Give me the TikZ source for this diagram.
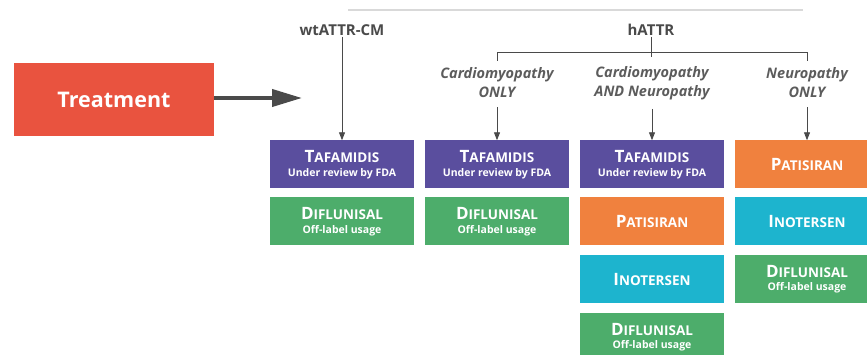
\documentclass[tikz,border=0pt]{standalone}
\usepackage{fontspec}
\setmainfont{Open Sans}
\usetikzlibrary{arrows.meta}
\definecolor{tred}{HTML}{E9533F}
\definecolor{tpurple}{HTML}{5A4E9E}
\definecolor{tgreen}{HTML}{4DAD6B}
\definecolor{torange}{HTML}{F0813E}
\definecolor{tcyan}{HTML}{1DB4CE}
\definecolor{tgray}{HTML}{4A4A4A}
\newcommand\fsc[2]{{\fontsize{17}{17}\selectfont #1}{\fontsize{13.5}{13.5}\selectfont #2}}
\newcommand\subt[1]{{\fontsize{10.5}{10.5}\selectfont #1}}
\begin{document}
\begin{tikzpicture}[x=1pt,y=-1pt,
  drug/.style={fill=#1, minimum width=144pt, minimum height=48pt, inner sep=0pt,
    text=white, font=\bfseries, align=center},
  head/.style={text=tgray, font=\fontsize{15}{15}\selectfont\bfseries, inner sep=1pt},
  sub/.style={text=tgray!90, font=\fontsize{14.5}{19}\selectfont\bfseries\itshape, align=center, inner sep=1pt},
  conn/.style={draw=tgray, line width=0.9pt},
  arr/.style={conn, -{Triangle[length=8pt,width=6pt]}}]
\useasboundingbox (0,0) rectangle (867,355);
% top line
\coordinate (tl1) at (348,10);
\coordinate (tl2) at (803,10);
\draw[gray!30, line width=1.5pt] (tl1) -- (tl2);
% treatment
\node[fill=tred, minimum width=200pt, minimum height=73pt, inner sep=0pt, text=white,
  font=\fontsize{21.5}{21.5}\selectfont\bfseries] (treat) at (114,99.5) {Treatment};
\coordinate (tarr) at (302,98);
\draw[draw=tgray, line width=4pt, -{Triangle[length=30pt,width=17pt]}] (treat.east|-tarr) -- (tarr);
% headings
\node[head] (wt) at (342,30) {wtATTR-CM};
\node[head] (hattr) at (651,30) {hATTR};
\node[sub] (l1) at (497,83) {Cardiomyopathy\\ONLY};
\node[sub] (l2) at (652,83) {Cardiomyopathy\\AND Neuropathy};
\node[sub] (l3) at (807,83) {Neuropathy\\ONLY};
% boxes column 1
\node[drug=tpurple] (a1) at (342,164.5) {\fsc{T}{AFAMIDIS}\\[1.5pt]\subt{Under review by FDA}};
\node[drug=tgreen] (a2) at (342,221.5) {\fsc{D}{IFLUNISAL}\\[1.5pt]\subt{Off-label usage}};
% column 2
\node[drug=tpurple] (b1) at (497,164.5) {\fsc{T}{AFAMIDIS}\\[1.5pt]\subt{Under review by FDA}};
\node[drug=tgreen] (b2) at (497,221.5) {\fsc{D}{IFLUNISAL}\\[1.5pt]\subt{Off-label usage}};
% column 3
\node[drug=tpurple] (c1) at (652,164.5) {\fsc{T}{AFAMIDIS}\\[1.5pt]\subt{Under review by FDA}};
\node[drug=torange] (c2) at (652,221.5) {\fsc{P}{ATISIRAN}};
\node[drug=tcyan] (c3) at (652,279) {\fsc{I}{NOTERSEN}};
\node[drug=tgreen] (c4) at (652,337) {\fsc{D}{IFLUNISAL}\\[1.5pt]\subt{Off-label usage}};
% column 4
\node[drug=torange] (d1) at (807,164.5) {\fsc{P}{ATISIRAN}};
\node[drug=tcyan] (d2) at (807,221.5) {\fsc{I}{NOTERSEN}};
\node[drug=tgreen] (d3) at (807,279) {\fsc{D}{IFLUNISAL}\\[1.5pt]\subt{Off-label usage}};
% connectors
\draw[arr] (wt.south) -- (a1.north);
\coordinate (hb) at (651,52);
\coordinate (t1) at (497,61);
\coordinate (t3) at (807,61);
\coordinate (t2) at (651,57);
\draw[conn] (hattr.south) -- (t2);
\draw[conn] (t1) -- (t1|-hb) -- (t3|-hb) -- (t3);
\draw[arr, shorten <=8pt] (l1.south) -- (b1.north);
\draw[arr, shorten <=8pt] (l2.south) -- (c1.north);
\draw[arr, shorten <=8pt] (l3.south) -- (d1.north);
\end{tikzpicture}
\end{document}
